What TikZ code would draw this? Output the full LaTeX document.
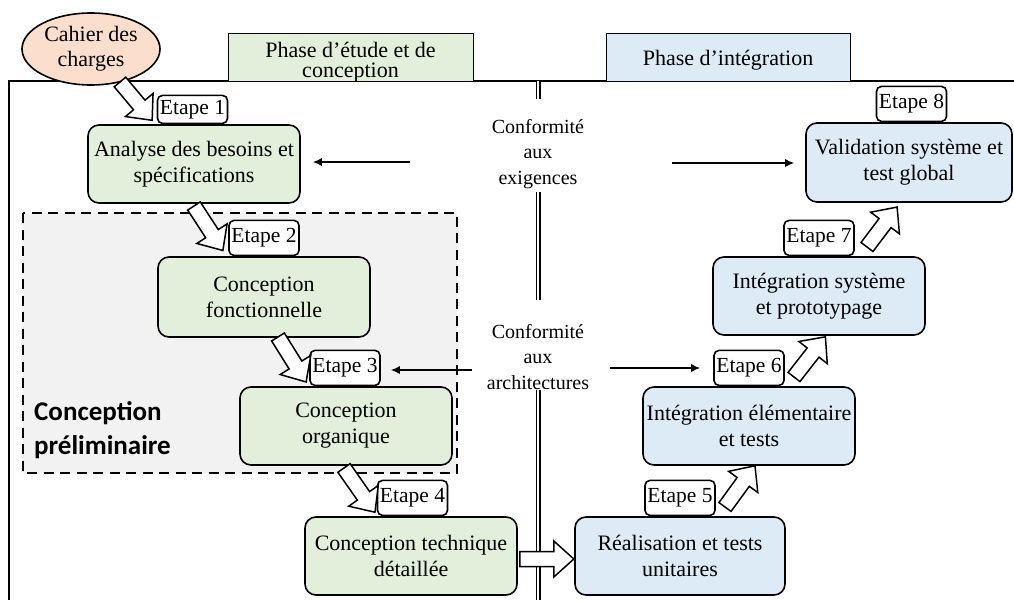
\documentclass[tikz,border=0pt]{standalone}
\usepackage{fontspec}
\setmainfont{Liberation Serif}
\newfontfamily\calibfont{Carlito}
\usetikzlibrary{arrows.meta,calc,shapes.geometric}
\definecolor{gfill}{HTML}{E2EFDA}
\definecolor{bfill}{HTML}{DDEBF7}
\definecolor{pfill}{HTML}{FBDFCC}
\definecolor{grayfill}{HTML}{F2F2F2}
\begin{document}
\begin{tikzpicture}[x=1pt,y=-1pt,
  box/.style={draw, line width=1.6pt, rounded corners=11pt, minimum width=212pt, minimum height=78pt, align=center, font=\fontsize{22}{26}\selectfont, inner sep=0pt},
  gbox/.style={box, fill=gfill},
  bbox/.style={box, fill=bfill},
  etape/.style={draw, line width=1.6pt, rounded corners=5pt, fill=white, minimum width=70pt, minimum height=35pt, inner sep=0pt, font=\fontsize{21.5}{26}\selectfont, anchor=south},
  header/.style={draw, line width=1pt, inner sep=0pt},
  headtext/.style={align=center, font=\fontsize{22}{20.5}\selectfont, inner sep=0pt},
  label/.style={align=center, font=\fontsize{20}{25.5}\selectfont, inner sep=0pt},
  thinarrow/.style={line width=1.4pt, -{Latex[length=9pt,width=8pt]}},
  frameline/.style={line width=1.6pt},
  dblline/.style={double, double distance=2.6pt, line width=1.2pt},
  pics/fatarr/.style={code={\draw[line width=1.5pt, fill=white, line join=miter]
     (0,-7.5) -- (#1-20,-7.5) -- (#1-20,-18) -- (#1,0) -- (#1-20,18) -- (#1-20,7.5) -- (0,7.5) -- cycle;}}
]
\useasboundingbox (0,0) rectangle (1014,600);

% frame and phase headers
\draw[frameline] (9,600) -- (9,81) -- (1014,81);
\node[header, fill=gfill, minimum width=245pt, minimum height=48pt] (ph1) at (350.5,57) {};
\node[headtext] (ph1t) at (350.5,62) {Phase d’étude et de\\conception};
\node[header, fill=bfill, minimum width=244pt, minimum height=48pt] (ph2) at (728,57) {};
\node[headtext] (ph2t) at (728,60) {Phase d’intégration};

% preliminary design zone
\draw[dashed, dash pattern=on 10pt off 6.5pt, line width=2.6pt, fill=grayfill] (23,213) rectangle (457,473);
\node[anchor=west, align=left, inner sep=0pt, font=\calibfont\bfseries\fontsize{27}{34}\selectfont] (prelim) at (34,430) {Conception\\préliminaire};

% central separator with conformity labels
\node[label] (conf1) at (538,154) {Conformité\\aux\\exigences};
\node[label] (conf2) at (538,357) {Conformité\\aux\\architectures};
\coordinate (sepTop) at (538,81);
\coordinate (sepBot) at (538,600);
\draw[dblline] (sepTop) -- (538,99);
\draw[dblline] (538,192) -- (538,300);
\draw[dblline] (538,390) -- (sepBot);

% boxes
\node[gbox] (analyse) at (194,164) {Analyse des besoins et\\spécifications};
\node[gbox, minimum height=80pt] (fonct) at (264,297) {Conception\\fonctionnelle};
\node[gbox] (organ) at (346,426) {Conception\\organique};
\node[gbox] (techn) at (411,556) {Conception technique\\détaillée};
\node[bbox, minimum width=210pt] (real) at (680,556) {Réalisation et tests\\unitaires};
\node[bbox] (integ) at (749,426) {Intégration élémentaire\\et tests};
\node[bbox] (sys) at (819,296) {Intégration système\\et prototypage};
\node[bbox, minimum width=206pt, minimum height=79pt] (valid) at (909,162.5) {Validation système et\\test global};

% step labels
\node[etape, minimum height=28pt] (e1) at ([xshift=-1.5pt]analyse.north) {Etape 1};
\node[etape] (e2) at (fonct.north) {Etape 2};
\node[etape] (e3) at ([xshift=-1pt]organ.north) {Etape 3};
\node[etape] (e4) at ([xshift=1.5pt]techn.north) {Etape 4};
\node[etape] (e5) at (real.north) {Etape 5};
\node[etape] (e6) at (integ.north) {Etape 6};
\node[etape] (e7) at (sys.north) {Etape 7};
\node[etape] (e8) at ([xshift=2.5pt]valid.north) {Etape 8};

% specification input
\node[ellipse, draw, line width=1.6pt, fill=pfill, minimum width=138pt, minimum height=72pt, inner sep=0pt, align=center, font=\fontsize{22}{25}\selectfont] (cdc) at (91,49) {Cahier des\\charges};

% thin conformity arrows
\coordinate (c1l) at (410,162);
\coordinate (c1r) at (672,163);
\coordinate (c2l) at (472,370);
\coordinate (c2r) at (610,368);
\draw[thinarrow] (c1l) -- ([xshift=12pt]analyse.east |- c1l);
\draw[thinarrow] (c1r) -- ([xshift=-11pt]valid.west |- c1r);
\draw[thinarrow] (c2l) -- ([xshift=10pt]e3.east |- c2l);
\draw[thinarrow] (c2r) -- ([xshift=-13pt]e6.west |- c2r);

% block arrows between stages
\pic[rotate=-50] at (120,82) {fatarr=50};
\pic[rotate=-57] at (194,206) {fatarr=53};
\pic[rotate=-58] at (278,337) {fatarr=53};
\pic[rotate=-55] at (344,468) {fatarr=54};
\pic at ([xshift=2pt]techn.east |- 0,559) {fatarr=54};
\pic[rotate=54] at (725,507) {fatarr=51};
\pic[rotate=52] at (794,377) {fatarr=51};
\pic[rotate=53] at (867,247) {fatarr=50};
\end{tikzpicture}
\end{document}
